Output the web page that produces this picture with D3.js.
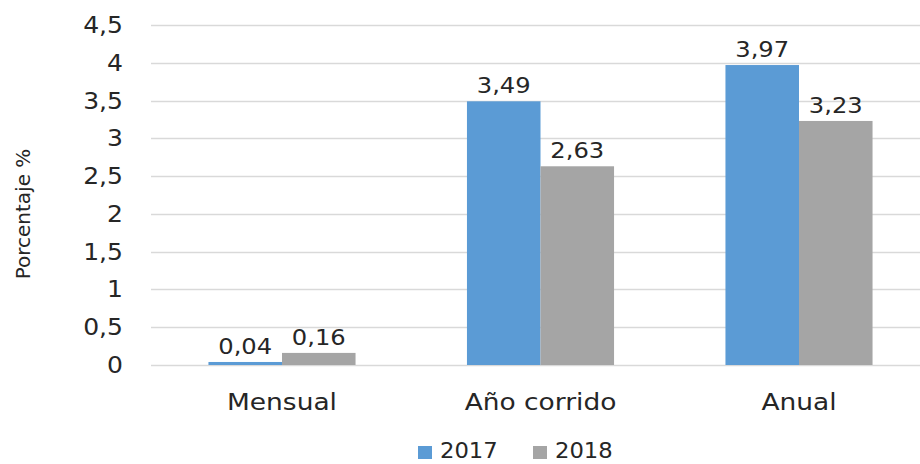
<!DOCTYPE html>
<html>
<head>
<meta charset="utf-8">
<script src="https://cdn.jsdelivr.net/npm/d3@7"></script>
<style>
  body { margin: 0; background: #fff; }
  svg { display: block; font-family: "DejaVu Sans", sans-serif; }
</style>
</head>
<body>
<div id="chart"></div>
<script>
// Chart data
const categories = ["Mensual", "Año corrido", "Anual"];
const seriesNames = ["2017", "2018"];
const values2017 = [0.04, 3.49, 3.97];
const values2018 = [0.16, 2.63, 3.23];
const yTicks = [0, 0.5, 1, 1.5, 2, 2.5, 3, 3.5, 4, 4.5];
const colors = ["#5B9BD5", "#A5A5A5"];

const width = 920, height = 464;
const textColor = "#262626";
const fmt = d => String(d).replace(".", ",");

const svg = d3.select("#chart")
  .append("svg")
  .attr("width", width)
  .attr("height", height);

// Scales
const y = d3.scaleLinear().domain([0, 4.5]).range([365, 25]);
const x0 = d3.scaleBand()
  .domain(categories)
  .range([152.75, 928.25])
  .paddingInner(0.431)
  .paddingOuter(0.2155);
const x1 = d3.scaleBand()
  .domain(seriesNames)
  .range([0, x0.bandwidth()]);

// Gridlines
svg.append("g")
  .selectAll("line")
  .data(yTicks)
  .join("line")
  .attr("x1", 151)
  .attr("x2", 920)
  .attr("y1", d => Math.round(y(d)) + 0.5)
  .attr("y2", d => Math.round(y(d)) + 0.5)
  .attr("stroke", "#D9D9D9")
  .attr("stroke-width", 1.5);

// Y tick labels (slightly stretched, like the original)
svg.append("g")
  .selectAll("text")
  .data(yTicks)
  .join("text")
  .attr("transform", d => `translate(123,${y(d) + 8}) scale(1.09,1)`)
  .attr("text-anchor", "end")
  .attr("font-size", 23)
  .attr("fill", textColor)
  .text(d => fmt(d));

// Y axis title
svg.append("text")
  .attr("transform", "translate(30,214) rotate(-90)")
  .attr("text-anchor", "middle")
  .attr("font-size", 20)
  .attr("fill", textColor)
  .text("Porcentaje %");

// Bars
const rows = categories.map((c, i) => ({
  cat: c,
  vals: [
    { s: seriesNames[0], v: values2017[i], c: colors[0] },
    { s: seriesNames[1], v: values2018[i], c: colors[1] }
  ]
}));

const groups = svg.append("g")
  .selectAll("g")
  .data(rows)
  .join("g")
  .attr("transform", d => `translate(${x0(d.cat)},0)`);

groups.selectAll("rect")
  .data(d => d.vals)
  .join("rect")
  .attr("x", d => x1(d.s))
  .attr("y", d => y(d.v))
  .attr("width", x1.bandwidth())
  .attr("height", d => y(0) - y(d.v))
  .attr("fill", d => d.c);

// Data labels
groups.selectAll("text")
  .data(d => d.vals)
  .join("text")
  .attr("transform", d => `translate(${x1(d.s) + x1.bandwidth() / 2},${y(d.v) - 8}) scale(1.1,1)`)
  .attr("text-anchor", "middle")
  .attr("font-size", 22)
  .attr("fill", textColor)
  .text(d => fmt(d.v));

// Category labels
svg.append("g")
  .selectAll("text")
  .data(categories)
  .join("text")
  .attr("transform", d => `translate(${x0(d) + x0.bandwidth() / 2},410) scale(1.15,1)`)
  .attr("text-anchor", "middle")
  .attr("font-size", 23)
  .attr("fill", textColor)
  .text(d => d);

// Legend
const legendX = [418, 533];
const legend = svg.append("g")
  .selectAll("g")
  .data(seriesNames)
  .join("g")
  .attr("transform", (d, i) => `translate(${legendX[i]},0)`);

legend.append("rect")
  .attr("x", 0)
  .attr("y", 446)
  .attr("width", 14)
  .attr("height", 13)
  .attr("fill", (d, i) => colors[i]);

legend.append("text")
  .attr("transform", "translate(22,458) scale(1.08,1)")
  .attr("font-size", 21)
  .attr("fill", textColor)
  .text(d => d);
</script>
</body>
</html>
